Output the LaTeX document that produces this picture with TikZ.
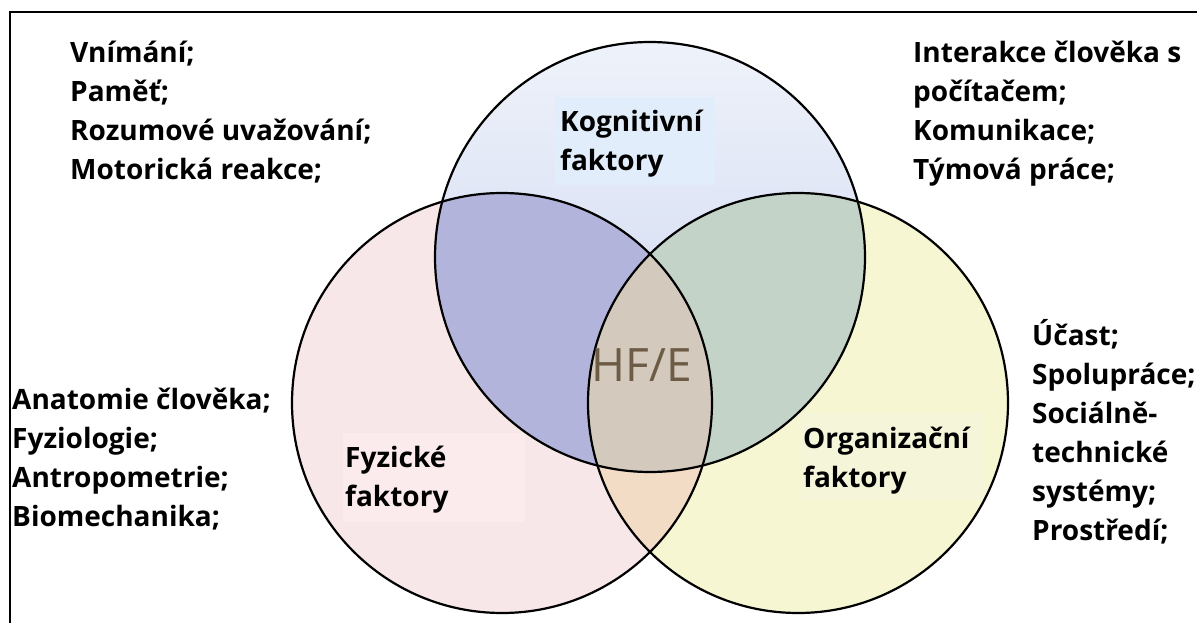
\documentclass[tikz,border=0pt]{standalone}
\usepackage{fontspec}
\setmainfont{Open Sans}
\definecolor{pinkF}{HTML}{F8E7E8}
\definecolor{yelF}{HTML}{F6F6D3}
\definecolor{blueTop}{HTML}{EEF2FA}
\definecolor{blueBot}{HTML}{C9D3EF}
\definecolor{lavF}{HTML}{B3B4DC}
\definecolor{greenF}{HTML}{C3D3C8}
\definecolor{peachF}{HTML}{F2DCC5}
\definecolor{centerF}{HTML}{D4C9BD}
\definecolor{hfeText}{HTML}{6D5C45}
\definecolor{kogBox}{HTML}{E2EDFB}
\definecolor{fyzBox}{HTML}{FCEBEC}
\definecolor{orgBox}{HTML}{F5F5D9}
\begin{document}
\begin{tikzpicture}[x=1pt,y=-1pt,
  txt/.style={font=\fontsize{28}{39}\selectfont\bfseries, align=left, inner sep=0pt, anchor=base west},
  outline/.style={draw=black, line width=2.2pt}]
\useasboundingbox (0,0) rectangle (1197,623);
\fill[white] (0,0) rectangle (1197,623);
\coordinate (T) at (650,257);
\coordinate (L) at (502,403);
\coordinate (R) at (798,403);
% base fills
\fill[pinkF] (L) circle[radius=210pt];
\fill[yelF] (R) circle[radius=210pt];
\shade[top color=blueTop, bottom color=blueBot] (T) circle[radius=215pt];
% overlaps
\begin{scope}
  \clip (R) circle[radius=210pt];
  \fill[greenF] (T) circle[radius=215pt];
\end{scope}
\begin{scope}
  \clip (L) circle[radius=210pt];
  \fill[lavF] (T) circle[radius=215pt];
  \fill[peachF] (R) circle[radius=210pt];
  \clip (R) circle[radius=210pt];
  \fill[centerF] (T) circle[radius=215pt];
\end{scope}
% label boxes
\fill[kogBox] (555,97) rectangle (715,185);
\fill[fyzBox] (343,433) rectangle (525,522);
\fill[orgBox] (802,413) rectangle (985,500);
% outlines
\draw[outline] (L) circle[radius=210pt];
\draw[outline] (R) circle[radius=210pt];
\draw[outline] (T) circle[radius=215pt];
% frame
\draw[line width=2pt] (10,623) -- (10,12) -- (1197,12);
% texts (base anchor = baseline of last line)
\node[txt] (kog) at (560,171) {Kognitivní\\faktory};
\node[txt] (fyz) at (345,506) {Fyzické\\faktory};
\node[txt] (org) at (803,487) {Organizační\\faktory};
\node[font=\fontsize{46}{46}\selectfont, text=hfeText, inner sep=0pt] (hfe) at (642,365) {HF/E};
\node[txt] (tl) at (70,179) {Vnímání;\\Paměť;\\Rozumové uvažování;\\Motorická reakce;};
\node[txt] (tr) at (913,179) {Interakce člověka s\\počítačem;\\Komunikace;\\Týmová práce;};
\node[txt] (ml) at (12,526) {Anatomie člověka;\\Fyziologie;\\Antropometrie;\\Biomechanika;};
\node[txt] (mr) at (1032,540) {Účast;\\Spolupráce;\\Sociálně-\\technické\\systémy;\\Prostředí;};
\end{tikzpicture}
\end{document}
